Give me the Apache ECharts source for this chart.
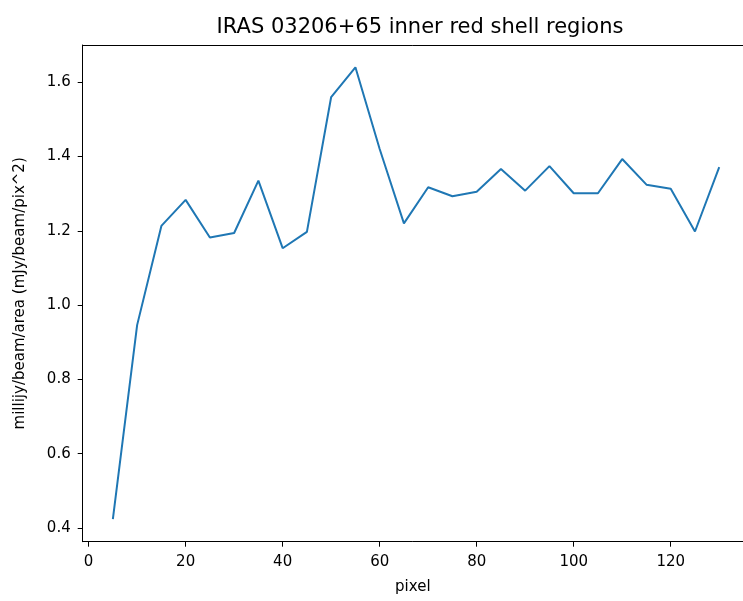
<!DOCTYPE html>
<html>
<head>
<meta charset="utf-8">
<script src="https://cdn.jsdelivr.net/npm/echarts@6/dist/echarts.min.js"></script>
<style>
html,body{margin:0;padding:0;background:#fff;}
#chart{width:743px;height:601px;}
</style>
</head>
<body>
<div id="chart"></div>
<script>
const pixels = [5,10,15,20,25,30,35,40,45,50,55,60,65,70,75,80,85,90,95,100,105,110,115,120,125,130];
const values = [0.424,0.946,1.213,1.283,1.182,1.194,1.335,1.153,1.197,1.56,1.64,1.42,1.22,1.317,1.293,1.305,1.366,1.308,1.374,1.301,1.301,1.393,1.324,1.313,1.198,1.371];
const xTicks = [0,20,40,60,80,100,120];
const yTicks = [0.4,0.6,0.8,1.0,1.2,1.4,1.6];
const titleText = 'IRAS 03206+65 inner red shell regions';
const xName = 'pixel';
const yName = 'millijy/beam/area (mJy/beam/pix^2)';

const font = 'DejaVu Sans';
const xMin = -1.22, xMax = 134.9;
const chart = echarts.init(document.getElementById('chart'), null, {renderer:'canvas'});
chart.setOption({
  animation:false,
  backgroundColor:'#fff',
  title:{text:titleText,left:415,top:12,textAlign:'center',
    textStyle:{fontFamily:font,fontSize:21,fontWeight:'normal',color:'#000'}},
  grid:{left:82.7,right:0,top:45,bottom:59.3,show:false},
  xAxis:[{type:'value',min:xMin,max:xMax,position:'bottom',
    name:xName,nameLocation:'middle',nameGap:38,
    nameTextStyle:{fontFamily:font,fontSize:15,color:'#000'},
    axisLine:{show:true,onZero:false,lineStyle:{color:'#000',width:1}},
    axisTick:{show:true,inside:false,length:5,customValues:xTicks,lineStyle:{color:'#000'}},
    axisLabel:{show:true,customValues:xTicks,fontFamily:font,fontSize:15,color:'#000',margin:13,
      formatter:v=>String(v)},
    splitLine:{show:false}},
   {type:'value',min:xMin,max:xMax,position:'top',
    axisLine:{show:true,onZero:false,lineStyle:{color:'#000',width:1}},
    axisTick:{show:false},axisLabel:{show:false},splitLine:{show:false}}],
  yAxis:{type:'value',min:0.363,max:1.70,
    name:yName,nameLocation:'middle',nameGap:55,nameRotate:90,
    nameTextStyle:{fontFamily:font,fontSize:15,color:'#000'},
    axisLine:{show:true,onZero:false,lineStyle:{color:'#000',width:1}},
    axisTick:{show:true,inside:false,length:5,customValues:yTicks,lineStyle:{color:'#000'}},
    axisLabel:{show:true,customValues:yTicks,fontFamily:font,fontSize:15,color:'#000',margin:12,
      formatter:v=>v.toFixed(1)},
    splitLine:{show:false}},
  series:[{type:'line',xAxisIndex:0,data:pixels.map((p,i)=>[p,values[i]]),showSymbol:false,
    lineStyle:{color:'#1f77b4',width:2},itemStyle:{color:'#1f77b4'}}]
});
</script>
</body>
</html>
